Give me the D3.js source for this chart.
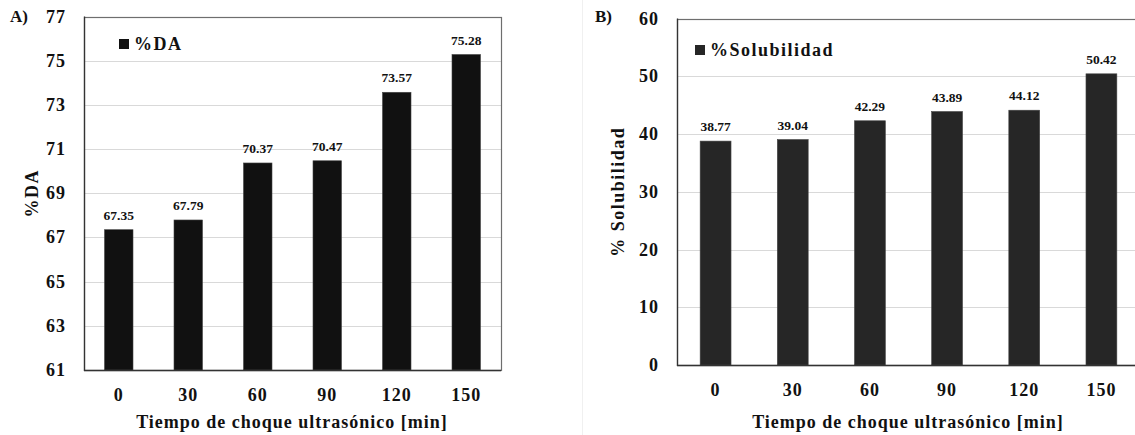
<!DOCTYPE html>
<html lang="es">
<head>
    <meta charset="UTF-8">
    <title>%DA y %Solubilidad</title>
    <script src="https://d3js.org/d3.v7.min.js"></script>
    <style>
        html, body {
            margin: 0;
            padding: 0;
            background: #fff;
            overflow: hidden;
        }
        svg {
            display: block;
            font-family: "Liberation Serif", "Times New Roman", serif;
            font-weight: bold;
        }
        .grid line {
            stroke: #d9d9d9;
            stroke-width: 1;
        }
        .tick-label {
            font-size: 18px;
            letter-spacing: 1px;
            fill: #111;
        }
        .value-label {
            font-size: 13.5px;
            fill: #111;
        }
        .axis-title {
            font-size: 18px;
            letter-spacing: 1px;
            fill: #111;
        }
        .legend-label, .y-title {
            font-size: 18px;
            letter-spacing: 1.5px;
            fill: #111;
        }
    </style>
</head>
<body>
<svg width="1135" height="435"></svg>
<script>
    // data
    const times = ["0", "30", "60", "90", "120", "150"];
    const daValues = [67.35, 67.79, 70.37, 70.47, 73.57, 75.28];
    const solValues = [38.77, 39.04, 42.29, 43.89, 44.12, 50.42];
    const daTicks = [61, 63, 65, 67, 69, 71, 73, 75, 77];
    const solTicks = [0, 10, 20, 30, 40, 50, 60];

    const svg = d3.select("svg");

    const panels = [
        {
            tag: "A)", tagX: 10, tagY: 22,
            left: 84, top: 16.5, bottom: 370, right: 501,
            values: daValues, ticks: daTicks, domain: [61, 77],
            pad: 0.59, fill: "#111111",
            yTitle: "%DA", yTitleX: 32, xTitleX: 292,
            legend: "%DA", legX: 119, legY: 39
        },
        {
            tag: "B)", tagX: 595, tagY: 22,
            left: 677, top: 18.5, bottom: 365, right: 1140,
            values: solValues, ticks: solTicks, domain: [0, 60],
            pad: 0.6, fill: "#262626",
            yTitle: "% Solubilidad", yTitleX: 618, xTitleX: 908,
            legend: "%Solubilidad", legX: 695, legY: 45
        }
    ];

    // faint edge of the second picture
    svg.append("line")
        .attr("x1", 582.5).attr("x2", 582.5)
        .attr("y1", 0).attr("y2", 435)
        .attr("stroke", "#f0f0f0");

    panels.forEach(p => {
        const g = svg.append("g");

        const x = d3.scaleBand()
            .domain(times)
            .range([p.left, p.right])
            .paddingInner(p.pad)
            .paddingOuter(p.pad / 2);

        const y = d3.scaleLinear()
            .domain(p.domain)
            .range([p.bottom, p.top]);

        // grid
        g.append("g").attr("class", "grid")
            .selectAll("line")
            .data(p.ticks.slice(1, -1))
            .join("line")
            .attr("x1", p.left)
            .attr("x2", p.right)
            .attr("y1", d => Math.round(y(d)) + 0.5)
            .attr("y2", d => Math.round(y(d)) + 0.5);

        // frame
        g.append("rect")
            .attr("x", p.left + 0.5)
            .attr("y", Math.round(p.top) + 0.5)
            .attr("width", p.right - p.left)
            .attr("height", p.bottom - Math.round(p.top))
            .attr("fill", "none")
            .attr("stroke", "#6e6e6e")
            .attr("stroke-width", 1.2);

        // bars
        g.append("g")
            .selectAll("rect")
            .data(p.values)
            .join("rect")
            .attr("x", (d, i) => x(times[i]))
            .attr("y", d => y(d))
            .attr("width", x.bandwidth())
            .attr("height", d => p.bottom - y(d))
            .attr("fill", p.fill)
            .attr("stroke", "#444")
            .attr("stroke-width", 0.6);

        // value labels
        g.append("g")
            .selectAll("text")
            .data(p.values)
            .join("text")
            .attr("class", "value-label")
            .attr("x", (d, i) => x(times[i]) + x.bandwidth() / 2)
            .attr("y", d => y(d) - 10)
            .attr("text-anchor", "middle")
            .text(d => d.toFixed(2));

        // axis lines (left and bottom a bit darker)
        g.append("line")
            .attr("x1", p.left + 0.5).attr("x2", p.left + 0.5)
            .attr("y1", p.top).attr("y2", p.bottom + 1)
            .attr("stroke", "#333").attr("stroke-width", 1.3);
        g.append("line")
            .attr("x1", p.left).attr("x2", p.right)
            .attr("y1", p.bottom + 0.5).attr("y2", p.bottom + 0.5)
            .attr("stroke", "#333").attr("stroke-width", 1.3);

        // y tick labels
        g.append("g")
            .selectAll("text")
            .data(p.ticks)
            .join("text")
            .attr("class", "tick-label")
            .attr("x", p.left - 18)
            .attr("y", d => y(d) + 6)
            .attr("text-anchor", "end")
            .text(d => d);

        // x tick labels
        g.append("g")
            .selectAll("text")
            .data(times)
            .join("text")
            .attr("class", "tick-label")
            .attr("x", d => x(d) + x.bandwidth() / 2)
            .attr("y", p.bottom + 31)
            .attr("text-anchor", "middle")
            .text(d => d);

        // axis titles
        g.append("text")
            .attr("class", "axis-title")
            .attr("x", p.xTitleX)
            .attr("y", 428)
            .attr("text-anchor", "middle")
            .text("Tiempo de choque ultrasónico [min]");

        g.append("text")
            .attr("class", "y-title")
            .attr("transform", `translate(${p.yTitleX + 6},${(p.top + p.bottom) / 2}) rotate(-90)`)
            .attr("text-anchor", "middle")
            .text(p.yTitle);

        // legend
        g.append("rect")
            .attr("x", p.legX)
            .attr("y", p.legY)
            .attr("width", 10)
            .attr("height", 10)
            .attr("fill", p.fill);
        g.append("text")
            .attr("class", "legend-label")
            .attr("x", p.legX + 15)
            .attr("y", p.legY + 11)
            .text(p.legend);

        // panel tag
        g.append("text")
            .attr("x", p.tagX)
            .attr("y", p.tagY)
            .attr("font-size", 17)
            .attr("fill", "#111")
            .text(p.tag);
    });
</script>
</body>
</html>
